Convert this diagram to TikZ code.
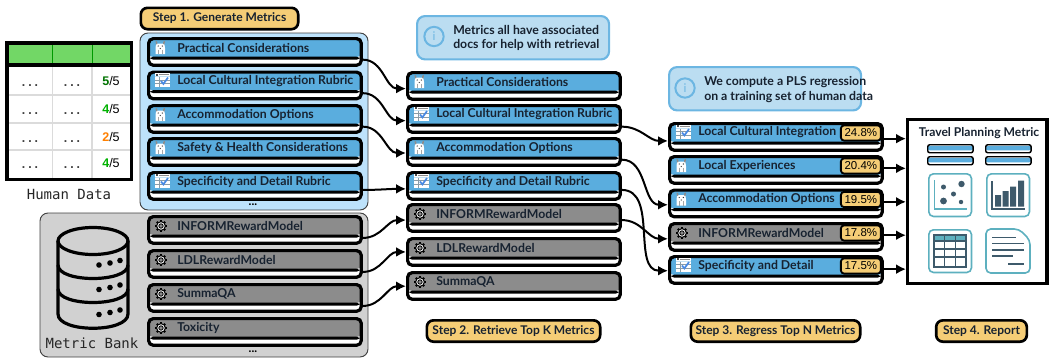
\documentclass[tikz,border=0pt]{standalone}
\usepackage{fontspec}
\setmainfont{Lato}
\newfontfamily\monofam{DejaVu Sans Mono}
\newfontfamily\numfam{Liberation Sans}
\usetikzlibrary{arrows.meta}

\definecolor{cardblue}{HTML}{5AADDE}
\definecolor{cardgray}{HTML}{8C8C8C}
\definecolor{stepgold}{HTML}{F5CD76}
\definecolor{panelblue}{HTML}{BDE2FB}
\definecolor{panelgray}{HTML}{D1D1D1}
\definecolor{infofill}{HTML}{BBDDF1}
\definecolor{infoline}{HTML}{6CB6E2}
\definecolor{headgreen}{HTML}{72D766}
\definecolor{inkdark}{HTML}{172230}
\definecolor{repteal}{HTML}{5DB0BF}
\definecolor{repdark}{HTML}{3E5A6B}

\tikzset{
  card/.style={shape=rectangle,draw=black,line width=2.4pt,rounded corners=3.5pt,fill=white,
    anchor=north west,inner sep=0pt,minimum width=159.5pt,minimum height=20pt,
    path picture={
      \fill[#1] (path picture bounding box.north west) rectangle ([yshift=-14pt]path picture bounding box.north east);
      \fill[black] ([yshift=-13.6pt]path picture bounding box.north west) rectangle ([yshift=-15.8pt]path picture bounding box.north east);
    }},
  cardtext/.style={anchor=west,inner sep=0pt,text=inkdark,font=\bfseries\fontsize{9.2}{11}\selectfont},
  stepbox/.style={shape=rectangle,draw=black,line width=2pt,rounded corners=5pt,fill=stepgold,
    inner sep=0pt,minimum height=16pt,text=inkdark,font=\bfseries\fontsize{9}{11}\selectfont},
  infobox/.style={shape=rectangle,draw=infoline,line width=1.6pt,rounded corners=6pt,fill=infofill,
    anchor=north west,inner sep=0pt,minimum width=144pt,minimum height=32.5pt},
  infotext/.style={anchor=west,inner sep=0pt,align=left,text=inkdark,font=\bfseries\fontsize{9.2}{10.8}\selectfont},
  infoicon/.style={shape=circle,draw=infoline,line width=1.5pt,minimum size=14.5pt,inner sep=0pt,
    text=infoline,font=\fontsize{9}{9}\selectfont},
  badge/.style={shape=rectangle,draw=black,line width=1.4pt,rounded corners=2.5pt,fill=stepgold,
    inner sep=0pt,minimum width=30pt,minimum height=11.5pt,font=\numfam\fontsize{8.6}{9}\selectfont},
  conn/.style={line width=1.5pt,-{Latex[length=7.5pt,width=7.5pt]}},
  repicon/.style={shape=rectangle,draw=repteal,line width=1.2pt,rounded corners=3.5pt,fill=white,
    anchor=north west,inner sep=0pt,minimum width=32pt,minimum height=32pt},
  minicard/.style={shape=rectangle,draw=black,line width=1.1pt,rounded corners=1.5pt,fill=white,
    anchor=north west,inner sep=0pt,minimum width=34pt,minimum height=6pt,
    path picture={\fill[cardblue] ([yshift=-0.8pt]path picture bounding box.north west) rectangle ([yshift=-4.2pt]path picture bounding box.north east);}},
  llama/.pic={
    \fill[white] (-4.8,-4.5) -- (3.3,-4.5) -- (4,0) -- (4,6) -- (-5.5,6) -- (-5.5,0) -- cycle;
    \fill[black!45] (-5.5,-7) -- (-3.8,-6.5) -- (-3.6,-4) -- (-5,-3.5) -- cycle;
    \fill[black!45] (4,-7) -- (2.3,-6.5) -- (2.1,-4) -- (3.5,-3.5) -- cycle;
    \fill[black!80] (-2.8,-2) circle (0.7) (1.3,-2) circle (0.7) (-0.75,0.5) circle (0.7);
    \draw[black!35,line width=0.3pt] (-3,1.5) -- (-3,6) (1.5,1.5) -- (1.5,6);
  },
  rubric/.pic={
    \fill[white] (-6,-8.5) rectangle (9,5.5);
    \fill[black!70] (-5.3,-8) rectangle (-3,-6);
    \fill[black!45] (-2,-7.5) rectangle (8,-6.4);
    \fill[cardblue!35] (-6,-5.3) rectangle (9,-4.3);
    \draw[repdark!60,line width=0.35pt] (-6,-1.3) -- (9,-1.3) (-6,2) -- (9,2) (-1.5,-4.3) -- (-1.5,5.5);
    \draw[cardblue!80!blue,line width=1.3pt] (0,-0.5) -- (2.4,2.4) -- (7,-4);
  },
  gear/.pic={
    \foreach \a in {0,45,...,315}
      \draw[black,line width=1.5pt] (\a:4) -- (\a:6);
    \draw[black,fill=white,line width=0.8pt] (0,0) circle (4.4);
    \draw[black,fill=cardgray,line width=0.6pt] (0,0) circle (2.2);
  }
}

\begin{document}
\begin{tikzpicture}[x=0.75pt,y=-0.75pt]
\useasboundingbox (0,0) rectangle (1050,358);

% panels
\fill[panelblue,draw=black!75,line width=0.7pt,rounded corners=6pt] (140,33) rectangle (368,210);
\fill[panelgray,draw=black!75,line width=0.7pt,rounded corners=6pt] (40,213) rectangle (368,357);
\node[inner sep=0pt,font=\bfseries\fontsize{9}{9}\selectfont] (gendots) at (253,205) {...};
\node[inner sep=0pt,font=\bfseries\fontsize{9}{9}\selectfont] (bankdots) at (253,352) {...};

% human data table
\fill[white] (6,42) rectangle (132,180);
\fill[headgreen] (6,42) rectangle (132,65);
\foreach \x in {52.5,92} {
  \draw[green!60!black,line width=0.7pt] (\x,44) -- (\x,65);
  \draw[black!14,line width=0.8pt] (\x,65) -- (\x,180);
}
\foreach \y in {95,123,150}
  \draw[black!14,line width=0.8pt] (6,\y) -- (132,\y);
\draw[black,line width=2.4pt] (7,65) -- (131,65);
\draw[black,line width=2.4pt] (7,43) rectangle (131.5,179.5);
\foreach \r/\y/\sc/\col in {a/81/5/green!45!black,b/109/4/green!70!black,c/137/2/orange,d/163/4/green!70!black} {
  \node[inner sep=0pt,font=\monofam\bfseries\fontsize{8}{9}\selectfont,text=black!75] (t\r1) at (30,\y+5) {...};
  \node[inner sep=0pt,font=\monofam\bfseries\fontsize{8}{9}\selectfont,text=black!75] (t\r2) at (72,\y+5) {...};
  \node[inner sep=0pt,font=\numfam\fontsize{9.4}{10}\selectfont] (t\r3) at (111,\y) {\textcolor{\col}{\textbf{\sc}}/5};
}
\node[inner sep=0pt,font=\monofam\fontsize{10.5}{12}\selectfont,text=black!85] (human) at (69,194) {Human Data};

% metric bank cylinder
\draw[black,line width=2.4pt] (93,241) ellipse (35 and 13.5);
\draw[black,line width=2.4pt] (58,241) -- (58,314) .. controls (58,333) and (128,333) .. (128,314) -- (128,241);
\draw[black,line width=2.4pt] (58,265) .. controls (58,283) and (128,283) .. (128,265);
\draw[black,line width=2.4pt] (58,289) .. controls (58,307) and (128,307) .. (128,289);
\foreach \d in {0,24.5,49.5} {
  \fill[black] (99,265+\d) circle (2.8);
  \fill[black] (110,263+\d) circle (2.8);
  \fill[black] (120,260.5+\d) circle (2.8);
}
\node[inner sep=0pt,font=\monofam\fontsize{10.5}{12}\selectfont,text=black!85] (bank) at (92,343) {Metric Bank};

% all metric cards
\foreach \n/\x/\y/\c/\ic/\t in {
  gp/147/37/cardblue/llama/Practical Considerations,
  gl/147/70.5/cardblue/rubric/Local Cultural Integration Rubric,
  ga/147/104/cardblue/llama/Accommodation Options,
  gs/147/137/cardblue/llama/Safety \& Health Considerations,
  gd/147/171/cardblue/rubric/Specificity and Detail Rubric,
  bi/147/215/cardgray/gear/INFORMRewardModel,
  bl/147/249/cardgray/gear/LDLRewardModel,
  bs/147/283/cardgray/gear/SummaQA,
  bt/147/317/cardgray/gear/Toxicity,
  rp/406/71/cardblue/llama/Practical Considerations,
  rl/406/104/cardblue/rubric/Local Cultural Integration Rubric,
  ra/406/137/cardblue/llama/Accommodation Options,
  rd/406/171/cardblue/rubric/Specificity and Detail Rubric,
  ri/406/203/cardgray/gear/INFORMRewardModel,
  rb/406/237/cardgray/gear/LDLRewardModel,
  rs/406/271/cardgray/gear/SummaQA,
  pl/668/122/cardblue/rubric/Local Cultural Integration,
  pe/668/155/cardblue/llama/Local Experiences,
  pa/668/188.5/cardblue/llama/Accommodation Options,
  pi/668/222/cardgray/gear/INFORMRewardModel,
  pd/668/255/cardblue/rubric/Specificity and Detail} {
  \node[card=\c] (\n) at (\x,\y) {};
  \path ([shift={(14,11)}]\n.north west) pic {\ic};
  \node[cardtext] (\n t) at ([shift={(30,10.5)}]\n.north west) {\t};
}

% percentages
\foreach \n/\t in {pl/24.8,pe/20.4,pa/19.5,pi/17.8,pd/17.5}
  \node[badge] (\n v) at ([shift={(-23,11)}]\n.north east) {\t\%};

% report
\node[shape=rectangle,draw=black,line width=2.4pt,anchor=north west,inner sep=0pt,fill=white,
  minimum width=104.5pt,minimum height=123pt] (report) at (906,118) {};
\node[inner sep=0pt,text=inkdark,font=\bfseries\fontsize{9.1}{11}\selectfont] (reptitle) at (979,133) {Travel Planning Metric};
\foreach \n/\x/\y in {ma/927/144,mb/985/144,mc/927/156,md/985/156}
  \node[minicard] (\n) at (\x,\y) {};
\foreach \n/\x/\y in {ia/928/173,ib/986/173,ic/928/229}
  \node[repicon] (\n) at (\x,\y) {};
% scatter
\draw[repteal,line width=1pt] (934.5,180) -- (934.5,209) -- (967,209);
\fill[repdark] (943.5,187) circle (2.5) (961.5,184) circle (3.2) (953.5,194) circle (2.5) (943.5,201) circle (3.4) (961,202) circle (2.2);
% bars
\draw[repdark,line width=1pt] (992,181) -- (992,209) -- (1025,209);
\fill[repdark] (995,195) rectangle (1001,206.5) (1002.5,191) rectangle (1008.5,206.5) (1010,186.5) rectangle (1016,206.5) (1018,180.5) rectangle (1024,206.5);
% table icon
\fill[repteal] (934,235) rectangle (966,241);
\draw[repdark,line width=1pt] (934,235) rectangle (966,267);
\foreach \x in {944.5,955.5} \draw[repdark,line width=0.8pt] (\x,235) -- (\x,267);
\foreach \y in {241,249,257} \draw[repdark,line width=0.8pt] (934,\y) -- (966,\y);
% doc icon
\draw[repteal,line width=1.2pt,rounded corners=3.5pt] (1000,229) -- (1019,229) -- (1030,240) -- (1030,273) -- (986,273) -- (986,229) -- (1000,229);
\foreach \a/\b/\y in {992/1016/237.5,992/1024/243.5,992/1024/250,992/1013/256,1008/1024/264}
  \draw[repdark,line width=0.8pt] (\a,\y) -- (\b,\y);

% connectors (y offsets from the card's side)
\foreach \f/\a/\g/\b in {gp/5.8/rp/2,gl/5.8/rl/1.3,ga/5.8/ra/0.8,gd/3/rd/2.2,
  bi/6/ri/1.6,bl/6/rb/0,bs/6/rs/0.2,rl/5.8/pl/3,ra/5.8/pa/1,rd/3/pd/0.6,ri/1.6/pi/1.4}
  \draw[conn] ([yshift=-\a pt]\f.east) to[out=0,in=180] ([yshift=-\b pt]\g.west);
\foreach \f/\a in {pl/1.3,pe/-1.2,pa/-1.2,pi/-1.3,pd/-0.6}
  \draw[conn] ([yshift=-\a pt]\f.east) -- ([yshift=-\a pt]\f.east -| report.west);

% info boxes
\node[infobox] (infoa) at (416,15) {};
\node[infoicon] (infoai) at (434,36.5) {i};
\node[infotext] (infoat) at (453,38) {Metrics all have associated\\docs for help with retrieval};
\node[infobox] (infob) at (668,66) {};
\node[infoicon] (infobi) at (685,88) {i};
\node[infotext] (infobt) at (704,89.5) {We compute a PLS regression\\on a training set of human data};

% steps
\node[stepbox,minimum width=118pt] (step1) at (219.5,18.5) {Step 1. Generate Metrics};
\node[stepbox,minimum width=130pt] (step2) at (513.5,331) {Step 2. Retrieve Top K Metrics};
\node[stepbox,minimum width=127pt] (step3) at (775.5,331) {Step 3. Regress Top N Metrics};
\node[stepbox,minimum width=68pt] (step4) at (981.5,331) {Step 4. Report};
\end{tikzpicture}
\end{document}
